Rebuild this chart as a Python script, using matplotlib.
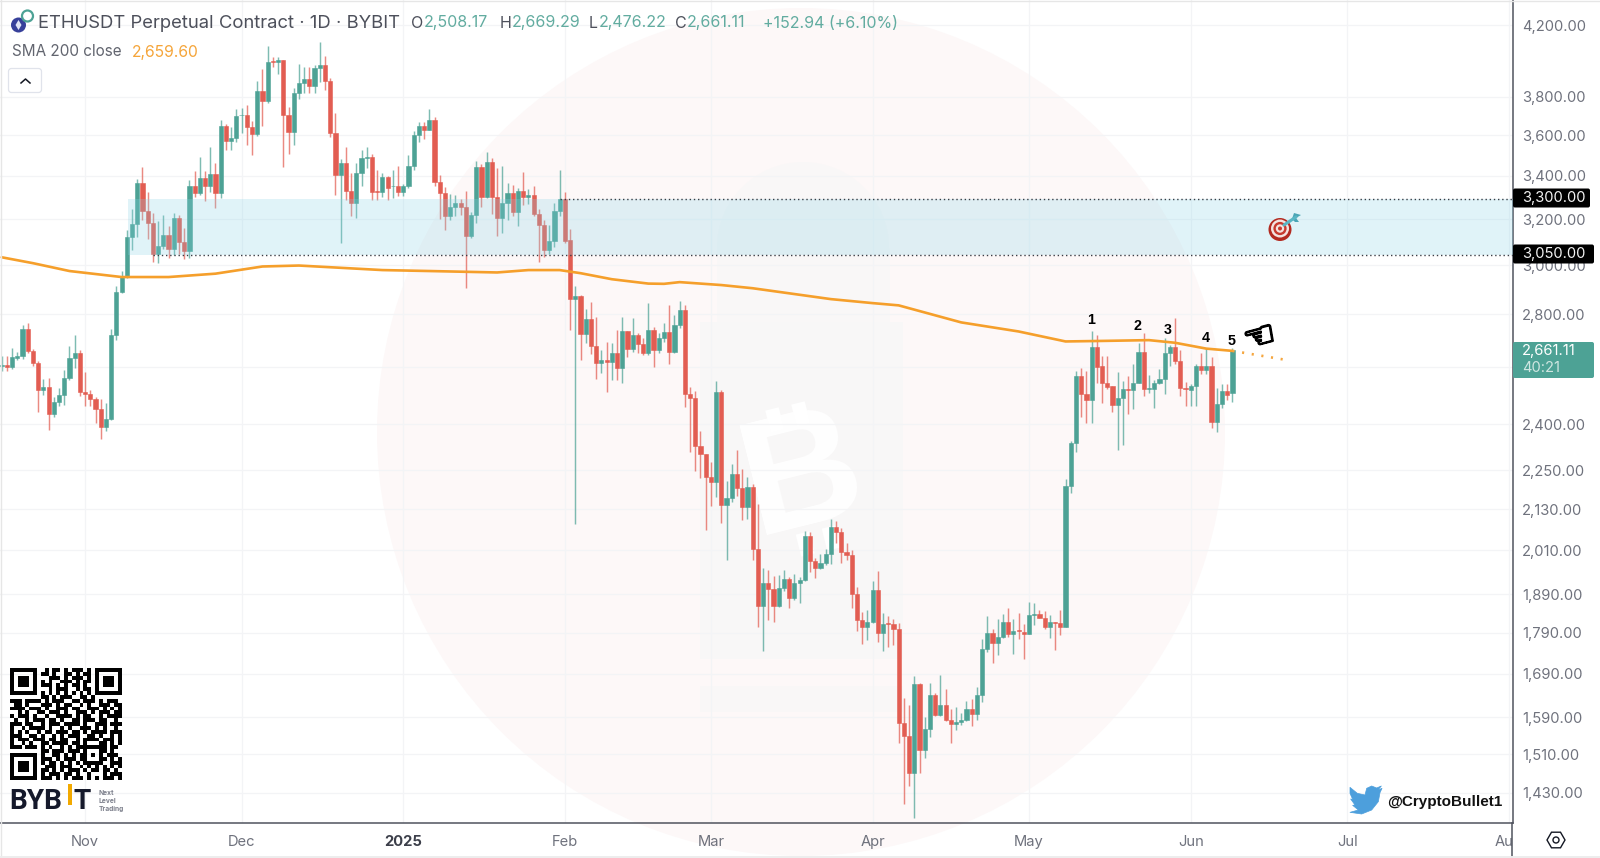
import pandas as pd
import matplotlib
matplotlib.use("Agg")
import matplotlib.pyplot as plt
import matplotlib.patheffects as pe
from matplotlib.patches import Circle, Rectangle, FancyBboxPatch, Polygon, RegularPolygon
from matplotlib.ticker import NullLocator

plt.rcParams['font.family'] = ['Inter', 'DejaVu Sans']

start_date = "2024-10-16"

opens = [2602,2606,2600,2634,2642,2742,2658,2616,2518,2528,
         2435,2474,2500,2560,2633,2652,2512,2503,2487,2451,
         2391,2417,2719,2890,2955,3120,3179,3366,3238,3182,
         3049,3081,3128,3070,3204,3100,3060,3353,3321,3390,
         3353,3409,3321,3648,3573,3585,3702,3705,3640,3607,
         3830,3777,3996,3990,3998,3703,3617,3822,3873,3897,
         3858,3954,3975,3883,3613,3406,3461,3330,3272,3413,
         3488,3490,3330,3322,3393,3350,3350,3326,3352,3446,
         3602,3649,3628,3676,3372,3318,3212,3256,3274,3256,
         3127,3217,3442,3299,3465,3299,3204,3274,3318,3234,
         3328,3302,3308,3222,3175,3066,3105,3238,3292,3108,
         2862,2871,2723,2782,2679,2616,2626,2620,2652,2596,
         2734,2667,2719,2684,2650,2737,2662,2707,2731,2656,
         2759,2815,2505,2491,2326,2300,2229,2212,2511,2141,
         2164,2236,2195,2135,2197,2015,1860,1919,1903,1860,
         1906,1931,1881,1920,1928,2052,1979,1961,1975,2000,
         2076,2062,2005,1998,1892,1823,1804,1818,1901,1789,
         1815,1813,1801,1577,1550,1471,1667,1518,1564,1640,
         1595,1619,1585,1575,1580,1584,1609,1598,1640,1751,
         1791,1764,1780,1817,1787,1798,1793,1788,1836,1838,
         1829,1804,1817,1815,1806,2201,2338,2569,2502,2483,
         2675,2602,2542,2530,2465,2488,2522,2519,2543,2656,
         2520,2522,2543,2556,2652,2675,2622,2525,2519,2532,
         2602,2590,2602,2408,2470,2515,2508.17]

highs = [2642,2642,2670,2656,2758,2766,2668,2621,2556,2562,
         2493,2523,2589,2677,2719,2663,2582,2517,2493,2485,
         2473,2744,2914,2977,3153,3246,3385,3441,3325,3226,
         3193,3220,3167,3226,3219,3160,3381,3422,3493,3422,
         3541,3461,3679,3658,3644,3734,3741,3758,3670,3883,
         3951,4078,4016,4016,4000,3747,3846,3978,3959,3959,
         3975,4100,4021,3900,3716,3480,3543,3413,3461,3528,
         3540,3506,3430,3413,3398,3430,3446,3362,3501,3621,
         3666,3666,3736,3691,3405,3347,3315,3310,3292,3328,
         3234,3470,3458,3515,3486,3440,3449,3366,3358,3342,
         3419,3340,3353,3244,3197,3175,3274,3430,3323,3155,
         2915,2877,2820,2850,2791,2662,2694,2688,2739,2791,
         2734,2786,2726,2707,2843,2750,2726,2766,2837,2795,
         2853,2837,2529,2515,2378,2302,2276,2549,2517,2217,
         2269,2315,2254,2229,2207,2146,1960,1955,1938,1941,
         1955,1935,1945,1937,2066,2064,1990,2001,2015,2100,
         2094,2074,2031,2010,1910,1844,1850,1925,1953,1842,
         1832,1825,1815,1635,1617,1686,1669,1590,1668,1645,
         1688,1655,1610,1613,1599,1628,1632,1660,1776,1832,
         1800,1825,1838,1853,1826,1840,1814,1870,1868,1848,
         1846,1836,1819,1849,2222,2345,2587,2595,2585,2733,
         2720,2642,2642,2530,2583,2550,2566,2611,2688,2727,
         2570,2553,2592,2708,2682,2785,2662,2546,2540,2612,
         2650,2670,2636,2523,2538,2540,2669.29]

lows = [2584,2584,2592,2626,2631,2650,2604,2440,2501,2379,
        2425,2460,2465,2553,2595,2495,2461,2461,2403,2351,
        2376,2414,2699,2885,2946,3063,3120,3197,3110,3015,
        3008,3070,3028,3042,3049,3024,3028,3303,3310,3280,
        3325,3249,3295,3525,3528,3568,3610,3551,3500,3595,
        3645,3767,3959,3920,3441,3506,3552,3785,3819,3819,
        3819,3877,3837,3592,3310,3093,3286,3212,3204,3350,
        3438,3286,3286,3303,3286,3294,3306,3306,3341,3430,
        3565,3582,3625,3350,3199,3150,3194,3212,3220,2904,
        3118,3181,3256,3295,3224,3125,3137,3196,3215,3167,
        3264,3270,3215,3012,3033,3046,3078,3216,3093,2737,
        2085,2626,2691,2648,2556,2580,2510,2554,2554,2542,
        2638,2656,2650,2644,2644,2600,2650,2694,2612,2650,
        2746,2459,2308,2247,2226,2068,2138,2166,2090,1984,
        2151,2171,2098,2100,1984,1806,1745,1824,1818,1857,
        1899,1855,1874,1868,1925,1951,1933,1959,1968,1972,
        2032,1975,1983,1853,1796,1763,1772,1816,1768,1745,
        1755,1759,1534,1408,1444,1380,1470,1501,1546,1594,
        1593,1582,1534,1562,1573,1583,1570,1585,1625,1743,
        1717,1735,1778,1781,1739,1776,1727,1788,1810,1827,
        1800,1778,1747,1784,1805,2180,2308,2425,2405,2405,
        2542,2473,2520,2441,2313,2330,2435,2450,2541,2495,
        2506,2453,2538,2505,2604,2612,2498,2463,2460,2463,
        2574,2575,2386,2375,2453,2481,2476.22]

closes = [2608,2601,2636,2642,2742,2658,2616,2518,2528,2435,
          2474,2500,2560,2633,2652,2512,2503,2487,2451,2391,
          2417,2719,2890,2955,3120,3179,3366,3238,3182,3049,
          3081,3128,3070,3204,3100,3060,3353,3321,3390,3353,
          3409,3321,3648,3573,3585,3699,3705,3640,3607,3830,
          3777,3992,3992,4000,3703,3617,3822,3873,3897,3858,
          3956,3975,3883,3613,3406,3461,3330,3272,3413,3484,
          3492,3325,3326,3393,3345,3354,3326,3352,3446,3602,
          3649,3628,3676,3372,3318,3212,3256,3274,3256,3127,
          3217,3442,3299,3465,3299,3204,3274,3318,3234,3328,
          3302,3308,3222,3175,3066,3105,3238,3292,3105,2862,
          2871,2723,2782,2679,2616,2626,2620,2652,2596,2734,
          2667,2719,2684,2650,2737,2662,2707,2731,2656,2759,
          2815,2505,2491,2326,2300,2229,2212,2511,2141,2164,
          2236,2195,2135,2197,2015,1860,1919,1903,1860,1906,
          1931,1881,1920,1928,2052,1979,1961,1975,2000,2076,
          2062,2005,1998,1892,1823,1804,1818,1901,1789,1813,
          1813,1801,1577,1550,1471,1667,1518,1564,1640,1595,
          1619,1585,1575,1580,1584,1609,1598,1640,1751,1791,
          1764,1780,1817,1787,1795,1795,1788,1836,1838,1829,
          1804,1817,1815,1806,2201,2338,2569,2502,2483,2675,
          2600,2542,2527,2465,2488,2520,2519,2543,2656,2520,
          2523,2543,2556,2652,2675,2622,2523,2522,2532,2602,
          2590,2602,2408,2470,2515,2501,2661.11]

sma_days = [0,6,13,19,23,32,41,50,57,73,82,95,101,107,111,117,124,127,130,138,
            144,159,167,172,184,195,204,211,220,225,231,236]
sma_values = [3033,3008,2975,2960,2950,2950,2964,2994,2998,2979,2975,2969,2979,2979,
              2966,2941,2923,2922,2929,2917,2904,2860,2844,2835,2768,2733,2695,2697,
              2700,2690,2668,2659.6]
proj_days = [236, 246]
proj_values = [2659.6, 2627]

zone_top = 3291
zone_bottom = 3042

price_ticks = [4200,3800,3600,3400,3200,3000,2800,2600,2400,2250,2130,2010,1890,1790,1690,1590,1510,1430]
price_labels = ["4,200.00","3,800.00","3,600.00","3,400.00","3,200.00","3,000.00","2,800.00","",
                "2,400.00","2,250.00","2,130.00","2,010.00","1,890.00","1,790.00","1,690.00",
                "1,590.00","1,510.00","1,430.00"]
month_dates = ["2024-11-01","2024-12-01","2025-01-01","2025-02-01","2025-03-01","2025-04-01",
               "2025-05-01","2025-06-01","2025-07-01","2025-08-01"]
month_labels = ["Nov","Dec","2025","Feb","Mar","Apr","May","Jun","Jul","Aug"]

count_labels = ["1","2","3","4","5"]
count_pos = [(1091.5,320),(1138,326),(1168,330),(1206,338),(1232,341)]

qr_rows = [
    "#######..#.##.#.###.#.#######",
    "#.....#.##.#..##.#.##.#.....#",
    "#.###.#...###.#.###.#.#.###.#",
    "#.###.#.#.#..###.#.##.#.###.#",
    "#.###.#.###.#.#.##.#..#.###.#",
    "#.....#...#.###..#.##.#.....#",
    "#######.#.#.#.#.#.#.#.#######",
    "........##.#.###..##.#.......",
    "###.####.#.###..##.###.#.###.",
    ".##.#...###.#.##..#.#..###.##",
    "####.###.#..###.##..###.#.#.#",
    "..#.#..##.###.#..###.#.###.##",
    "#.###.#..#..####.#.##..#.####",
    ".#..#.###.##.#..##.###.##..#.",
    "###.##..#.###.####.#..###.###",
    "#..#.####.#..#.#..###.#.#..#.",
    "#.#.#..#.##.###.##.#.####.###",
    "###..##.#..#.#.###..##.#..#.#",
    "#.###.###.##.##..#.####.###.#",
    "#..#.#..##.####.##.#...##.#.#",
    "###.###.#.#..#.#.########.##.",
    "........##.###.###.#...##.#..",
    "#######.#..##.#.#.##.#.#.###.",
    "#.....#.###.#.###.##...##.#.#",
    "#.###.#.#.##.#.#.#.#####..###",
    "#.###.#..###.###..#.#.#.#.#.#",
    "#.###.#.##.#.#.###.#.##.##.#.",
    "#.....#.#.###.##.#..#...#.###",
    "#######.###.#.#.###.#.#.###.#",
]

green = "#4da295"
red = "#e25d52"
grid_color = "#f3f4f6"
axis_color = "#50535e"
label_color = "#6f727d"

dates = pd.date_range(start_date, periods=len(closes))
days = list(range(len(closes)))
month_pos = [(pd.Timestamp(d) - dates[0]).days for d in month_dates]

fig = plt.figure(figsize=(16, 8.58), dpi=100, facecolor="white")

# background watermark, in pixels
bg = fig.add_axes([0, 0, 1, 1], zorder=0)
bg.set_xlim(0, 1600)
bg.set_ylim(858, 0)
bg.axis("off")
bg.add_patch(Circle((801, 432), 424, color="#fdf8f8", lw=0))
bg.add_patch(FancyBboxPatch((717, 245), 173, 134, boxstyle="round,pad=0,rounding_size=8", color="#f9f7f7", lw=0))
bg.add_patch(Circle((803, 248), 86, color="#f9f7f7", lw=0))
bg.add_patch(Rectangle((700, 322), 203, 337, color="#f8f7f7", lw=0))
bg.add_patch(Rectangle((700, 686), 203, 26, color="#f9f7f7", lw=0))
bg.text(803, 479, "B", fontsize=118, fontweight="bold", family="Liberation Sans", color="white",
        rotation=14, ha="center", va="center")
for x0, y0 in [(772, 409), (798, 403), (808, 555), (834, 549)]:
    sign = 1 if y0 < 479 else -1
    bg.plot([x0, x0 + sign * 5.5], [y0, y0 + sign * 22], color="white", lw=10, solid_capstyle="butt")

ax = fig.add_axes([0, 35 / 858, 1512.5 / 1600, 823 / 858], zorder=1)
ax.patch.set_alpha(0)
ax.set_yscale("log")
ax.set_xlim(-0.32, 289.7)
ax.set_ylim(1371, 4352)

for i in days:
    col = green if closes[i] >= opens[i] else red
    ax.vlines(i, lows[i], highs[i], color=col, lw=1.05, alpha=0.72, zorder=3)
    lo = min(opens[i], closes[i])
    ax.bar(i, abs(closes[i] - opens[i]), bottom=lo, width=0.8, color=col, edgecolor=col, lw=0.4, zorder=4)

ax.plot(sma_days, sma_values, color="#f59f2b", lw=1.9, zorder=5, solid_capstyle="round")
ax.plot(proj_days, proj_values, color="#f5a63f", lw=1.9, ls=(0, (0.8, 2.9)), zorder=5)

ax.fill_between([24.2, 289.7], zone_bottom, zone_top, color=(135/255, 211/255, 231/255), alpha=0.25, lw=0, zorder=6)
ax.hlines(zone_top, 107, 289.7, color="#3a3d45", lw=1.0, ls=(0, (1, 2)), zorder=6)
ax.hlines(zone_bottom, 29, 289.7, color="#3a3d45", lw=1.0, ls=(0, (1, 2)), zorder=6)

ax.yaxis.tick_right()
ax.set_yticks(price_ticks, labels=price_labels)
ax.yaxis.set_minor_locator(NullLocator())
ax.set_xticks(month_pos, labels=month_labels)
ax.tick_params(axis="both", length=0, labelsize=10.6, labelcolor=label_color)
ax.tick_params(axis="y", pad=7)
ax.tick_params(axis="x", pad=8.5)
for lab in ax.get_yticklabels():
    lab.set_ha("left")
ax.get_xticklabels()[2].set_fontweight("bold")
ax.get_xticklabels()[2].set_color("#3c3f4a")
ax.grid(True, color=grid_color, lw=0.9, zorder=0)
ax.set_axisbelow(True)
for side in ["top", "left"]:
    ax.spines[side].set_visible(False)
for side in ["right", "bottom"]:
    ax.spines[side].set_color(axis_color)
    ax.spines[side].set_linewidth(1.1)

# everything that sits on top, also in pixels
ov = fig.add_axes([0, 0, 1, 1], zorder=2)
ov.set_xlim(0, 1600)
ov.set_ylim(858, 0)
ov.axis("off")

ov.add_patch(Rectangle((1513, 824), 87, 34, color="white", lw=0))
ov.plot([1512.3, 1512.3], [823, 858], color=axis_color, lw=1.1)
ov.add_patch(RegularPolygon((1556, 840), 6, radius=9, orientation=0.5236, fill=False, ec="#131722", lw=1.0))
ov.add_patch(Circle((1556, 840), 3, fill=False, ec="#131722", lw=1.0))

# price boxes
for top, h, wid, txt in [(188.5, 19, 77, "3,300.00"), (244.5, 19, 81, "3,050.00")]:
    ov.add_patch(FancyBboxPatch((1513, top), wid, h, boxstyle="round,pad=0,rounding_size=2", color="black", lw=0))
    ov.text(1522, top + h / 2, txt, color="#f2f2f2", fontsize=10.6, va="center", ha="left")
ov.add_patch(FancyBboxPatch((1513, 342), 81, 36, boxstyle="round,pad=0,rounding_size=2", color=green, lw=0))
ov.text(1522, 351, "2,661.11", color="white", fontsize=10.6, va="center", ha="left")
ov.text(1522, 368, "40:21", color="#cfe6e1", fontsize=10.6, va="center", ha="left")

# header
ov.text(38, 23, "ETHUSDT Perpetual Contract \u00b7 1D \u00b7 BYBIT", color="#4d505b", fontsize=13.3, va="center")
head_letters = [(411, "O"), (500, "H"), (589, "L"), (675, "C")]
head_values = [(424, "2,508.17"), (512, "2,669.29"), (599, "2,476.22"), (687, "2,661.11"), (763, "+152.94 (+6.10%)")]
for x, s in head_letters:
    ov.text(x, 23, s, color="#4d505b", fontsize=11.5, va="center")
for x, s in head_values:
    ov.text(x, 23, s, color="#62aca0", fontsize=11.5, va="center")
ov.text(12, 52, "SMA 200 close", color="#62656f", fontsize=11, va="center")
ov.text(132, 52, "2,659.60", color="#f5a53a", fontsize=11.3, va="center")
ov.add_patch(FancyBboxPatch((8.5, 68.5), 33, 24, boxstyle="round,pad=0,rounding_size=3", fc="white", ec="#e0e3eb", lw=0.9))
ov.plot([21, 25.5, 30], [83, 79, 83], color="#131722", lw=1.1)

# coin icon
ov.add_patch(Circle((18.5, 25), 7.5, color="#37409a", lw=0))
ov.add_patch(Polygon([(18.5, 20), (21.5, 25), (18.5, 30), (15.5, 25)], color="#dfe3f5", lw=0))
ov.add_patch(Circle((27.5, 16), 5.5, fill=False, ec="#4da295", lw=1.6))

# count labels over the candles
for s, (x, y) in zip(count_labels, count_pos):
    ov.text(x, y, s, color="black", fontsize=10.3, family="Liberation Sans", ha="center", va="center", fontweight="bold")

# hand
ov.text(1260, 338, "\u261c", fontsize=26, family="DejaVu Sans", color="black", rotation=15, ha="center", va="center",
        path_effects=[pe.withStroke(linewidth=1.4, foreground="black")])

# target with dart
ov.add_patch(Circle((1280, 229.5), 11.5, color="#b32a20", lw=0))
ov.add_patch(Circle((1280, 228.5), 9, color="#f3e3df", lw=0))
ov.add_patch(Circle((1280, 228.5), 6.6, color="#c73a2e", lw=0))
ov.add_patch(Circle((1280, 228.5), 4.2, color="#f3e3df", lw=0))
ov.add_patch(Circle((1280, 228.5), 2, color="#c73a2e", lw=0))
ov.plot([1284, 1296], [225, 217], color="#58b6c4", lw=2.2, solid_capstyle="round")
ov.add_patch(Polygon([(1292, 219), (1294, 213), (1301, 215), (1296, 218), (1299, 222), (1295, 222)], color="#4aa5b5", lw=0))

# QR
qr_mod = 112 / 29
for r, row in enumerate(qr_rows):
    for c, ch in enumerate(row.ljust(29, ".")[:29]):
        if ch == "#":
            ov.add_patch(Rectangle((10 + c * qr_mod, 668 + r * qr_mod), qr_mod, qr_mod, color="black", lw=0))

# bybit logo
ov.text(9.5, 801.5, "BYB", fontsize=20.2, fontweight="bold", family="Roboto", color="#15192b", va="center", ha="left")
ov.add_patch(Rectangle((67.5, 784), 4.3, 21, color="#f2a900", lw=0))
ov.text(73.5, 801.5, "T", fontsize=20.2, fontweight="bold", family="Roboto", color="#15192b", va="center", ha="left")
for y, s in zip([793, 801, 809], ["Next", "Level", "Trading"]):
    ov.text(98.5, y, s, fontsize=4.8, fontweight="bold", color="#7d808c", va="center", ha="left")

# twitter
bird = [(246,115),(234,120),(244,108),(230,114),(215,108),(200,115),(195,135),(172,130),(150,112),
        (150,130),(158,148),(152,147),(165,165),(158,166),(175,180),(150,187),(185,192),(215,180),
        (235,155),(240,128)]
ov.add_patch(Polygon([(1300 + x / 3, 750 + y / 3) for x, y in bird], color="#4d9fdc", lw=0.5, joinstyle="round"))
ov.text(1387, 802, "@CryptoBullet1", fontsize=11, fontweight="bold", family="Liberation Sans", color="#111111", va="center")

# chart frame
ov.plot([0, 1600], [0.5, 0.5], color="#e6e6e6", lw=1.0)
ov.plot([0.5, 0.5], [0, 858], color="#e6e6e6", lw=1.0)
ov.plot([0, 1600], [856.5, 856.5], color="#ededed", lw=1.4)

fig.savefig("out.png", dpi=100)
